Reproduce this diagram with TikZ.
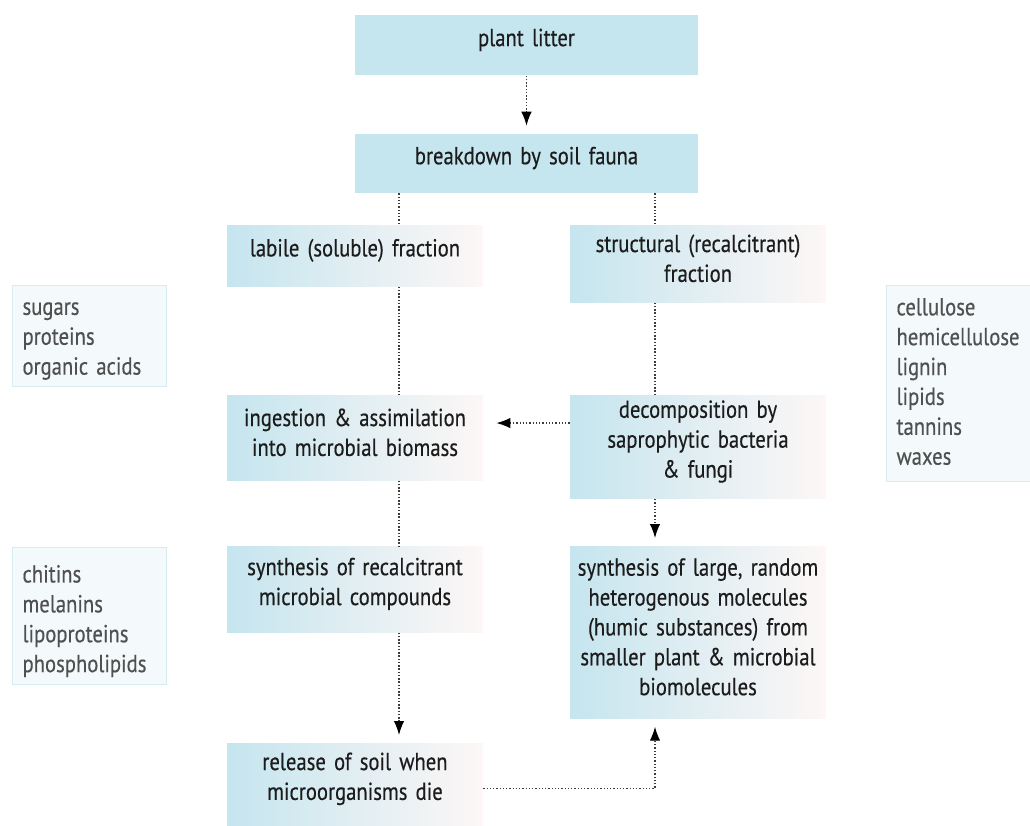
\documentclass[tikz,border=0pt]{standalone}
\usepackage{fontspec}
\setmainfont{PT Sans}[FakeStretch=0.84, WordSpace=0.62, FakeBold=0.4]
\definecolor{boxblue}{RGB}{197, 229, 239}
\definecolor{boxpink}{RGB}{253, 247, 246}
\definecolor{listfill}{RGB}{244, 250, 251}
\definecolor{listline}{RGB}{214, 236, 242}
\definecolor{inkgray}{RGB}{28, 28, 28}
\definecolor{listgray}{RGB}{80, 80, 80}
\definecolor{dotgray}{RGB}{60, 60, 60}
\usetikzlibrary{arrows.meta, positioning, calc}
\tikzset{
	flow/.style={rectangle, fill=boxblue, align=center, text width=6.56cm, inner xsep=0.15cm, inner ysep=0.1cm, text=inkgray, font=\fontsize{14}{17}\selectfont, execute at end node={\par\vspace{0.22cm}}},
	fadeflow/.style={rectangle, left color=boxblue, right color=boxpink, align=center, text width=5.0cm, inner xsep=0.06cm, inner ysep=0.1cm, text=inkgray, font=\fontsize{14}{17}\selectfont, execute at end node={\par\vspace{0.22cm}}},
	listbox/.style={rectangle, draw=listline, fill=listfill, line width=0.6pt, align=left, text width=2.68cm, inner xsep=0.2cm, inner ysep=0.1cm, text=listgray, font=\fontsize{14}{17}\selectfont, execute at end node={\par\vspace{-0.2cm}}},
	link/.style={line width=0.75pt, draw=dotgray, dash pattern=on 0.75pt off 1.1pt},
	arrow/.style={link, -{Latex[length=2.8mm, width=2.1mm, color=black, fill=black]}, shorten >=0.16cm},
}
\begin{document}
\begin{tikzpicture}
		\useasboundingbox (0,0) rectangle (20.6,-16.5);
		% main chain
		\node[flow, anchor=north, minimum height=1.2cm] (litter) at (10.53,-0.3) {plant litter};
		\node[flow, below=1.16cm of litter, minimum height=1.18cm] (fauna) {breakdown by soil fauna};
		\node[fadeflow, anchor=north, minimum height=1.22cm] (labile) at (7.1,-4.5) {labile (soluble) fraction};
		\node[fadeflow, anchor=north, minimum height=1.54cm] (struct) at (13.96,-4.5) {structural (recalcitrant)\\ fraction};
		\node[fadeflow, anchor=north, minimum height=1.7cm] (ingest) at (7.1,-7.9) {ingestion \& assimilation\\ into microbial biomass};
		\node[fadeflow, anchor=north, minimum height=2.04cm] (decomp) at (13.96,-7.9) {decomposition by\\ saprophytic bacteria\\ \& fungi};
		\node[fadeflow, anchor=north, minimum height=1.72cm] (synrec) at (7.1,-10.92) {synthesis of recalcitrant\\ microbial compounds};
		\node[fadeflow, anchor=north, minimum height=3.44cm] (humic) at (13.96,-10.92) {synthesis of large, random\\ heterogenous molecules\\ (humic substances) from\\ smaller plant \& microbial\\ biomolecules};
		\node[fadeflow, anchor=north, minimum height=1.64cm] (release) at (7.1,-14.86) {release of soil when\\ microorganisms die};
		% side lists
		\node[listbox, anchor=north west, minimum height=2.02cm] (labilelist) at (0.24,-5.7) {sugars\\ proteins\\ organic acids};
		\node[listbox, anchor=north west, minimum height=3.92cm, execute at end node={\vspace{0.28cm}}] (structlist) at (17.72,-5.7) {cellulose\\ hemicellulose\\ lignin\\ lipids\\ tannins\\ waxes};
		\node[listbox, anchor=north west, minimum height=2.74cm] (microlist) at (0.24,-10.94) {chitins\\ melanins\\ lipoproteins\\ phospholipids};
		% connectors
		\draw[arrow] (litter) -- (fauna);
		\draw[link] ([xshift=0.88cm]fauna.south -| labile) -- ([xshift=0.88cm]labile.north);
		\draw[link] ([xshift=0.88cm]labile.south) -- ([xshift=0.88cm]ingest.north);
		\draw[link] ([xshift=0.88cm]ingest.south) -- ([xshift=0.88cm]synrec.north);
		\draw[arrow] ([xshift=0.88cm]synrec.south) -- ([xshift=0.88cm]release.north);
		\draw[link] ([xshift=-0.86cm]fauna.south -| struct) -- ([xshift=-0.86cm]struct.north);
		\draw[link] ([xshift=-0.86cm]struct.south) -- ([xshift=-0.86cm]decomp.north);
		\draw[arrow] ([xshift=-0.86cm]decomp.south) -- ([xshift=-0.86cm]humic.north);
		\draw[arrow, shorten >=0.26cm] ([yshift=0.48cm]decomp.west) -- ([yshift=0.48cm]decomp.west -| ingest.east);
		\draw[arrow] ([yshift=-0.08cm]release.east) -| ([xshift=-0.86cm]humic.south);
	\end{tikzpicture}
\end{document}
